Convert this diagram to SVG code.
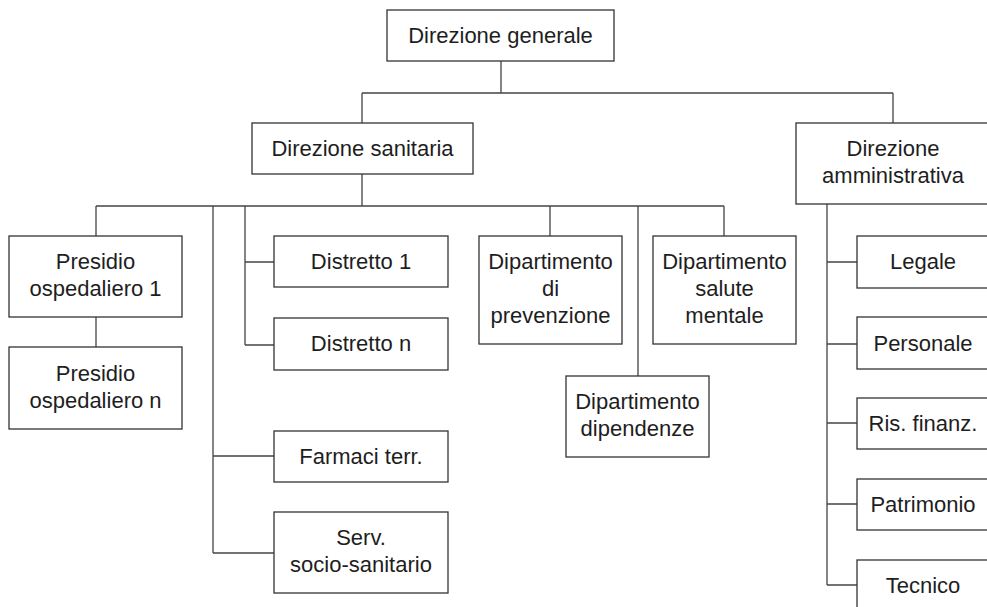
<svg xmlns="http://www.w3.org/2000/svg" width="987" height="607" viewBox="0 0 987 607">
  <style>
    .box { fill: #ffffff; stroke: #333333; stroke-width: 1.3; }
    .lbl { font-family: "Liberation Sans", Arial, sans-serif; font-size: 22px; fill: #1e1e1e; text-anchor: middle; }
    .wire { fill: none; stroke: #444444; stroke-width: 1.3; }
  </style>
  <rect width="987" height="607" fill="#ffffff"/>

  <g id="connectors" class="wire">
    <!-- top level -->
    <path d="M501 61 V93 M362 93 H893 M362 93 V123 M893 93 V123"/>
    <!-- sanitaria branch -->
    <path d="M362 174 V206 M96 206 H724"/>
    <path d="M96 206 V236 M96 317 V347"/>
    <path d="M213 206 V553 M213 456 H274 M213 553 H274"/>
    <path d="M245 206 V345 M245 262 H274 M245 345 H274"/>
    <path d="M550 206 V236 M638 206 V376 M724 206 V236"/>
    <!-- amministrativa branch -->
    <path d="M827 204 V585 M827 262 H857 M827 344 H857 M827 423 H857 M827 504 H857 M827 585 H857"/>
  </g>

  <g id="direzione-generale">
    <rect class="box" x="387" y="10" width="227" height="51"/>
    <text class="lbl" x="500.5" y="43">Direzione generale</text>
  </g>

  <g id="direzione-sanitaria">
    <rect class="box" x="252" y="123" width="221" height="51"/>
    <text class="lbl" x="362.5" y="156">Direzione sanitaria</text>
  </g>

  <g id="direzione-amministrativa">
    <rect class="box" x="796" y="123" width="194" height="81"/>
    <text class="lbl" x="893" y="156"><tspan x="893">Direzione</tspan><tspan x="893" dy="27">amministrativa</tspan></text>
  </g>

  <g id="presidio-1">
    <rect class="box" x="9" y="236" width="173" height="81"/>
    <text class="lbl" x="95.5" y="269"><tspan x="95.5">Presidio</tspan><tspan x="95.5" dy="27">ospedaliero 1</tspan></text>
  </g>

  <g id="presidio-n">
    <rect class="box" x="9" y="347" width="173" height="82"/>
    <text class="lbl" x="95.5" y="381"><tspan x="95.5">Presidio</tspan><tspan x="95.5" dy="27">ospedaliero n</tspan></text>
  </g>

  <g id="distretto-1">
    <rect class="box" x="274" y="236" width="174" height="51"/>
    <text class="lbl" x="361" y="269">Distretto 1</text>
  </g>

  <g id="distretto-n">
    <rect class="box" x="274" y="318" width="174" height="52"/>
    <text class="lbl" x="361" y="351">Distretto n</text>
  </g>

  <g id="farmaci-terr">
    <rect class="box" x="274" y="431" width="174" height="51"/>
    <text class="lbl" x="361" y="464">Farmaci terr.</text>
  </g>

  <g id="serv-socio-sanitario">
    <rect class="box" x="274" y="512" width="174" height="81"/>
    <text class="lbl" x="361" y="545"><tspan x="361">Serv.</tspan><tspan x="361" dy="27">socio-sanitario</tspan></text>
  </g>

  <g id="dip-prevenzione">
    <rect class="box" x="479" y="236" width="143" height="108"/>
    <text class="lbl" x="550.5" y="269"><tspan x="550.5">Dipartimento</tspan><tspan x="550.5" dy="27">di</tspan><tspan x="550.5" dy="27">prevenzione</tspan></text>
  </g>

  <g id="dip-dipendenze">
    <rect class="box" x="566" y="376" width="143" height="81"/>
    <text class="lbl" x="637.5" y="409"><tspan x="637.5">Dipartimento</tspan><tspan x="637.5" dy="27">dipendenze</tspan></text>
  </g>

  <g id="dip-salute-mentale">
    <rect class="box" x="653" y="236" width="143" height="108"/>
    <text class="lbl" x="724.5" y="269"><tspan x="724.5">Dipartimento</tspan><tspan x="724.5" dy="27">salute</tspan><tspan x="724.5" dy="27">mentale</tspan></text>
  </g>

  <g id="legale">
    <rect class="box" x="857" y="236" width="133" height="52"/>
    <text class="lbl" x="923" y="269">Legale</text>
  </g>

  <g id="personale">
    <rect class="box" x="857" y="317" width="133" height="52"/>
    <text class="lbl" x="923" y="351">Personale</text>
  </g>

  <g id="ris-finanz">
    <rect class="box" x="857" y="398" width="133" height="51"/>
    <text class="lbl" x="923" y="431">Ris. finanz.</text>
  </g>

  <g id="patrimonio">
    <rect class="box" x="857" y="479" width="133" height="51"/>
    <text class="lbl" x="923" y="512">Patrimonio</text>
  </g>

  <g id="tecnico">
    <rect class="box" x="857" y="560" width="133" height="51"/>
    <text class="lbl" x="923" y="593">Tecnico</text>
  </g>
</svg>
